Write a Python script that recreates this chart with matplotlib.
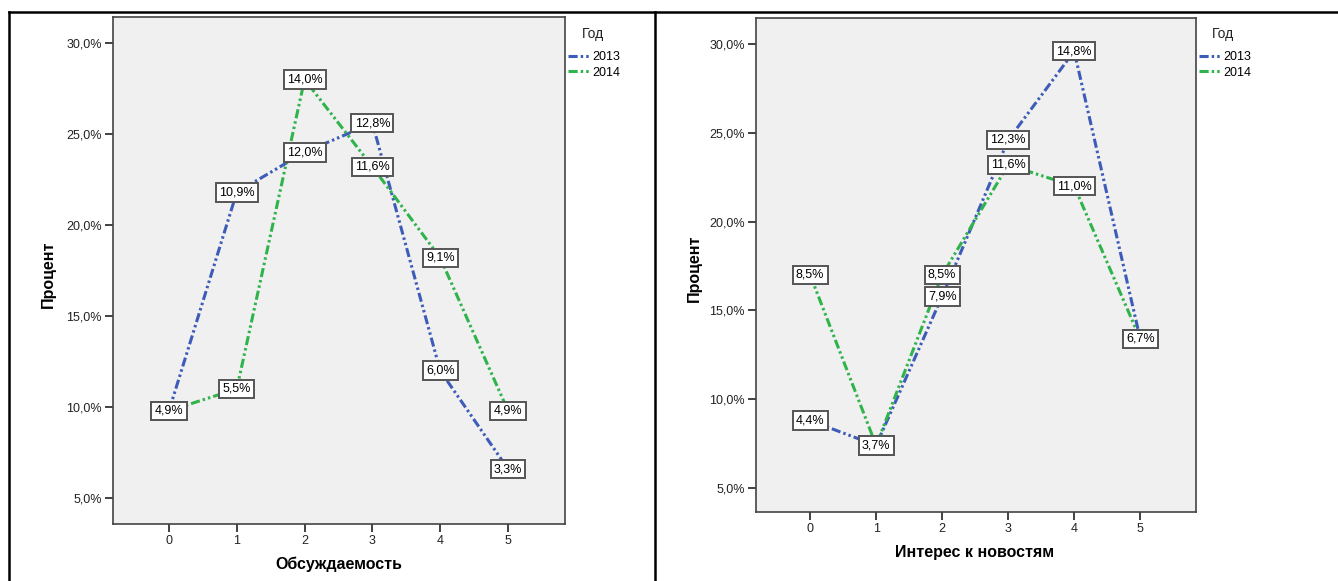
import matplotlib
matplotlib.use('Agg')
import matplotlib.pyplot as plt
from matplotlib.lines import Line2D
from matplotlib.ticker import FuncFormatter

plt.rcParams['font.family'] = ['Liberation Sans', 'DejaVu Sans']

categories = [0, 1, 2, 3, 4, 5]
years = ['2013', '2014']

# left panel: percent within year (y) and percent of total (box labels)
left_2013 = [9.8, 21.8, 24.0, 25.6, 12.0, 6.6]
left_2014 = [9.8, 11.0, 28.0, 23.2, 18.2, 9.8]
left_lbl_2013 = ['4,9%', '10,9%', '12,0%', '12,8%', '6,0%', '3,3%']
left_lbl_2014 = ['4,9%', '5,5%', '14,0%', '11,6%', '9,1%', '4,9%']

# right panel
right_2013 = [8.8, 7.4, 15.8, 24.6, 29.6, 13.4]
right_2014 = [17.0, 7.4, 17.0, 23.2, 22.0, 13.4]
right_lbl_2013 = ['4,4%', '3,7%', '7,9%', '12,3%', '14,8%', '6,7%']
right_lbl_2014 = ['8,5%', '3,7%', '8,5%', '11,6%', '11,0%', '6,7%']

yticks = [5, 10, 15, 20, 25, 30]

W, H = 1338, 581
colors = {'2013': '#3d5bb8', '2014': '#2fb44b'}
dash = (0, (3.0, 1.0, 0.8, 1.0, 0.8, 1.0))


def px_rect(x0, y0, x1, y1):
    return [x0 / W, 1 - y1 / H, (x1 - x0) / W, (y1 - y0) / H]


fig = plt.figure(figsize=(W / 100, H / 100), dpi=100)
fig.patch.set_facecolor('white')

panels = [
    (px_rect(113, 17, 565, 524), left_2013, left_2014, left_lbl_2013, left_lbl_2014,
     'Обсуждаемость', (48, 274), (339, 564), (568, 51), (582, 34), (-0.825, 5.84),
     (3.58, 31.43)),
    (px_rect(756, 18, 1196, 512), right_2013, right_2014, right_lbl_2013, right_lbl_2014,
     'Интерес к новостям', (694, 268), (975, 552), (1199, 51), (1212, 34), (-0.82, 5.845),
     (3.65, 31.47)),
]

for rect, y13, y14, l13, l14, xlabel, ylpos, xlpos, legpos, titlepos, xlim, ylim in panels:
    ax = fig.add_axes(rect)
    ax.set_facecolor('#f0f0f0')
    for name, vals, lbls in [('2013', y13, l13), ('2014', y14, l14)]:
        ax.plot(categories, vals, color=colors[name], lw=2.2, linestyle=dash,
                label=name, zorder=2)
        for x, y, t in zip(categories, vals, lbls):
            ax.text(x, y, t, ha='center', va='center', fontsize=9, zorder=3,
                    bbox=dict(boxstyle='square,pad=0.26', fc='white', ec='#555555', lw=1.4))
    ax.set_xlim(*xlim)
    ax.set_ylim(*ylim)
    ax.set_xticks(categories)
    ax.set_yticks(yticks)
    ax.yaxis.set_major_formatter(FuncFormatter(lambda v, p: ('%.1f%%' % v).replace('.', ',')))
    ax.tick_params(labelsize=9, length=6, width=1.3, color='#333333', pad=2,
                   labelcolor='#222222')
    for s in ax.spines.values():
        s.set_color('#444444')
        s.set_linewidth(1.2)
    fig.text(ylpos[0] / W, 1 - ylpos[1] / H, 'Процент', rotation=90, fontsize=11.5,
             fontweight='bold', ha='center', va='center')
    fig.text(xlpos[0] / W, 1 - xlpos[1] / H, xlabel, fontsize=11.5,
             fontweight='bold', ha='center', va='center')
    fig.text(titlepos[0] / W, 1 - titlepos[1] / H, 'Год', fontsize=10,
             ha='left', va='center', color='#222222')
    ax.legend(loc='upper left', bbox_to_anchor=(legpos[0] / W, 1 - legpos[1] / H),
              bbox_transform=fig.transFigure, frameon=False,
              fontsize=9, handlelength=1.85, handletextpad=0.1,
              labelspacing=0.3, borderpad=0, borderaxespad=0)

# panel frame lines
for xs, ys in [((9, W), (12, 12)), ((9, 9), (12, H)), ((655, 655), (12, H))]:
    fig.add_artist(Line2D([x / W for x in xs], [1 - y / H for y in ys],
                          color='black', lw=1.8, transform=fig.transFigure))

plt.savefig('out.png', dpi=100)
